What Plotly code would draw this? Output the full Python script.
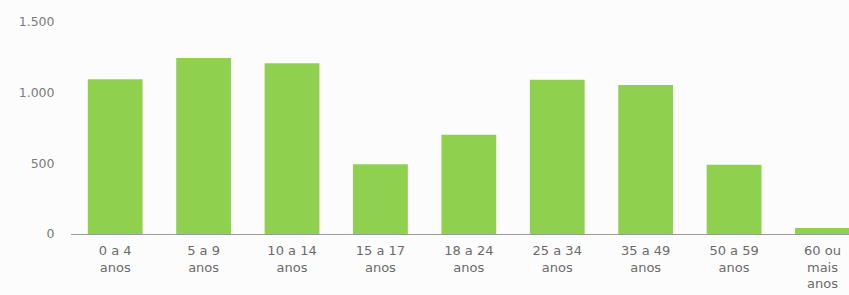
import plotly.graph_objects as go

categories = ["0 a 4<br>anos", "5 a 9<br>anos", "10 a 14<br>anos", "15 a 17<br>anos",
              "18 a 24<br>anos", "25 a 34<br>anos", "35 a 49<br>anos", "50 a 59<br>anos",
              "60 ou<br>mais<br>anos"]
values = [1095, 1245, 1208, 494, 702, 1091, 1055, 490, 42]
tick_vals = [0, 500, 1000, 1500]
tick_text = ["0", "500", "1.000", "1.500"]

fig = go.Figure(go.Bar(
    x=list(range(len(categories))), y=values,
    marker=dict(color="#8fd04f", line=dict(width=0)),
))

fig.update_layout(
    width=849, height=295,
    margin=dict(l=71, r=0, t=22, b=61),
    paper_bgcolor="#fdfcfd", plot_bgcolor="#fdfcfd",
    bargap=0.38, showlegend=False,
    font=dict(family="DejaVu Sans", size=12, color="#666666"),
)
fig.update_xaxes(
    range=[-0.5, 8.3], tickmode="array",
    tickvals=list(range(len(categories))), ticktext=categories,
    showgrid=False, zeroline=False, showline=True, linecolor="#9a9a9a", linewidth=1,
    ticks="outside", ticklen=4, tickcolor="rgba(0,0,0,0)",
    tickfont=dict(size=13, color="#6a6a6a"),
)
fig.update_yaxes(
    range=[0, 1500], tickmode="array", tickvals=tick_vals, ticktext=tick_text,
    showgrid=False, zeroline=False, showline=False, ticks="outside", ticklen=13,
    tickcolor="rgba(0,0,0,0)", tickfont=dict(size=12.5, color="#7a7a7a"),
)

fig.write_html("out.html", config={"displayModeBar": False},
               post_script="document.body.style.margin='0';document.body.style.background='#fdfcfd';")
